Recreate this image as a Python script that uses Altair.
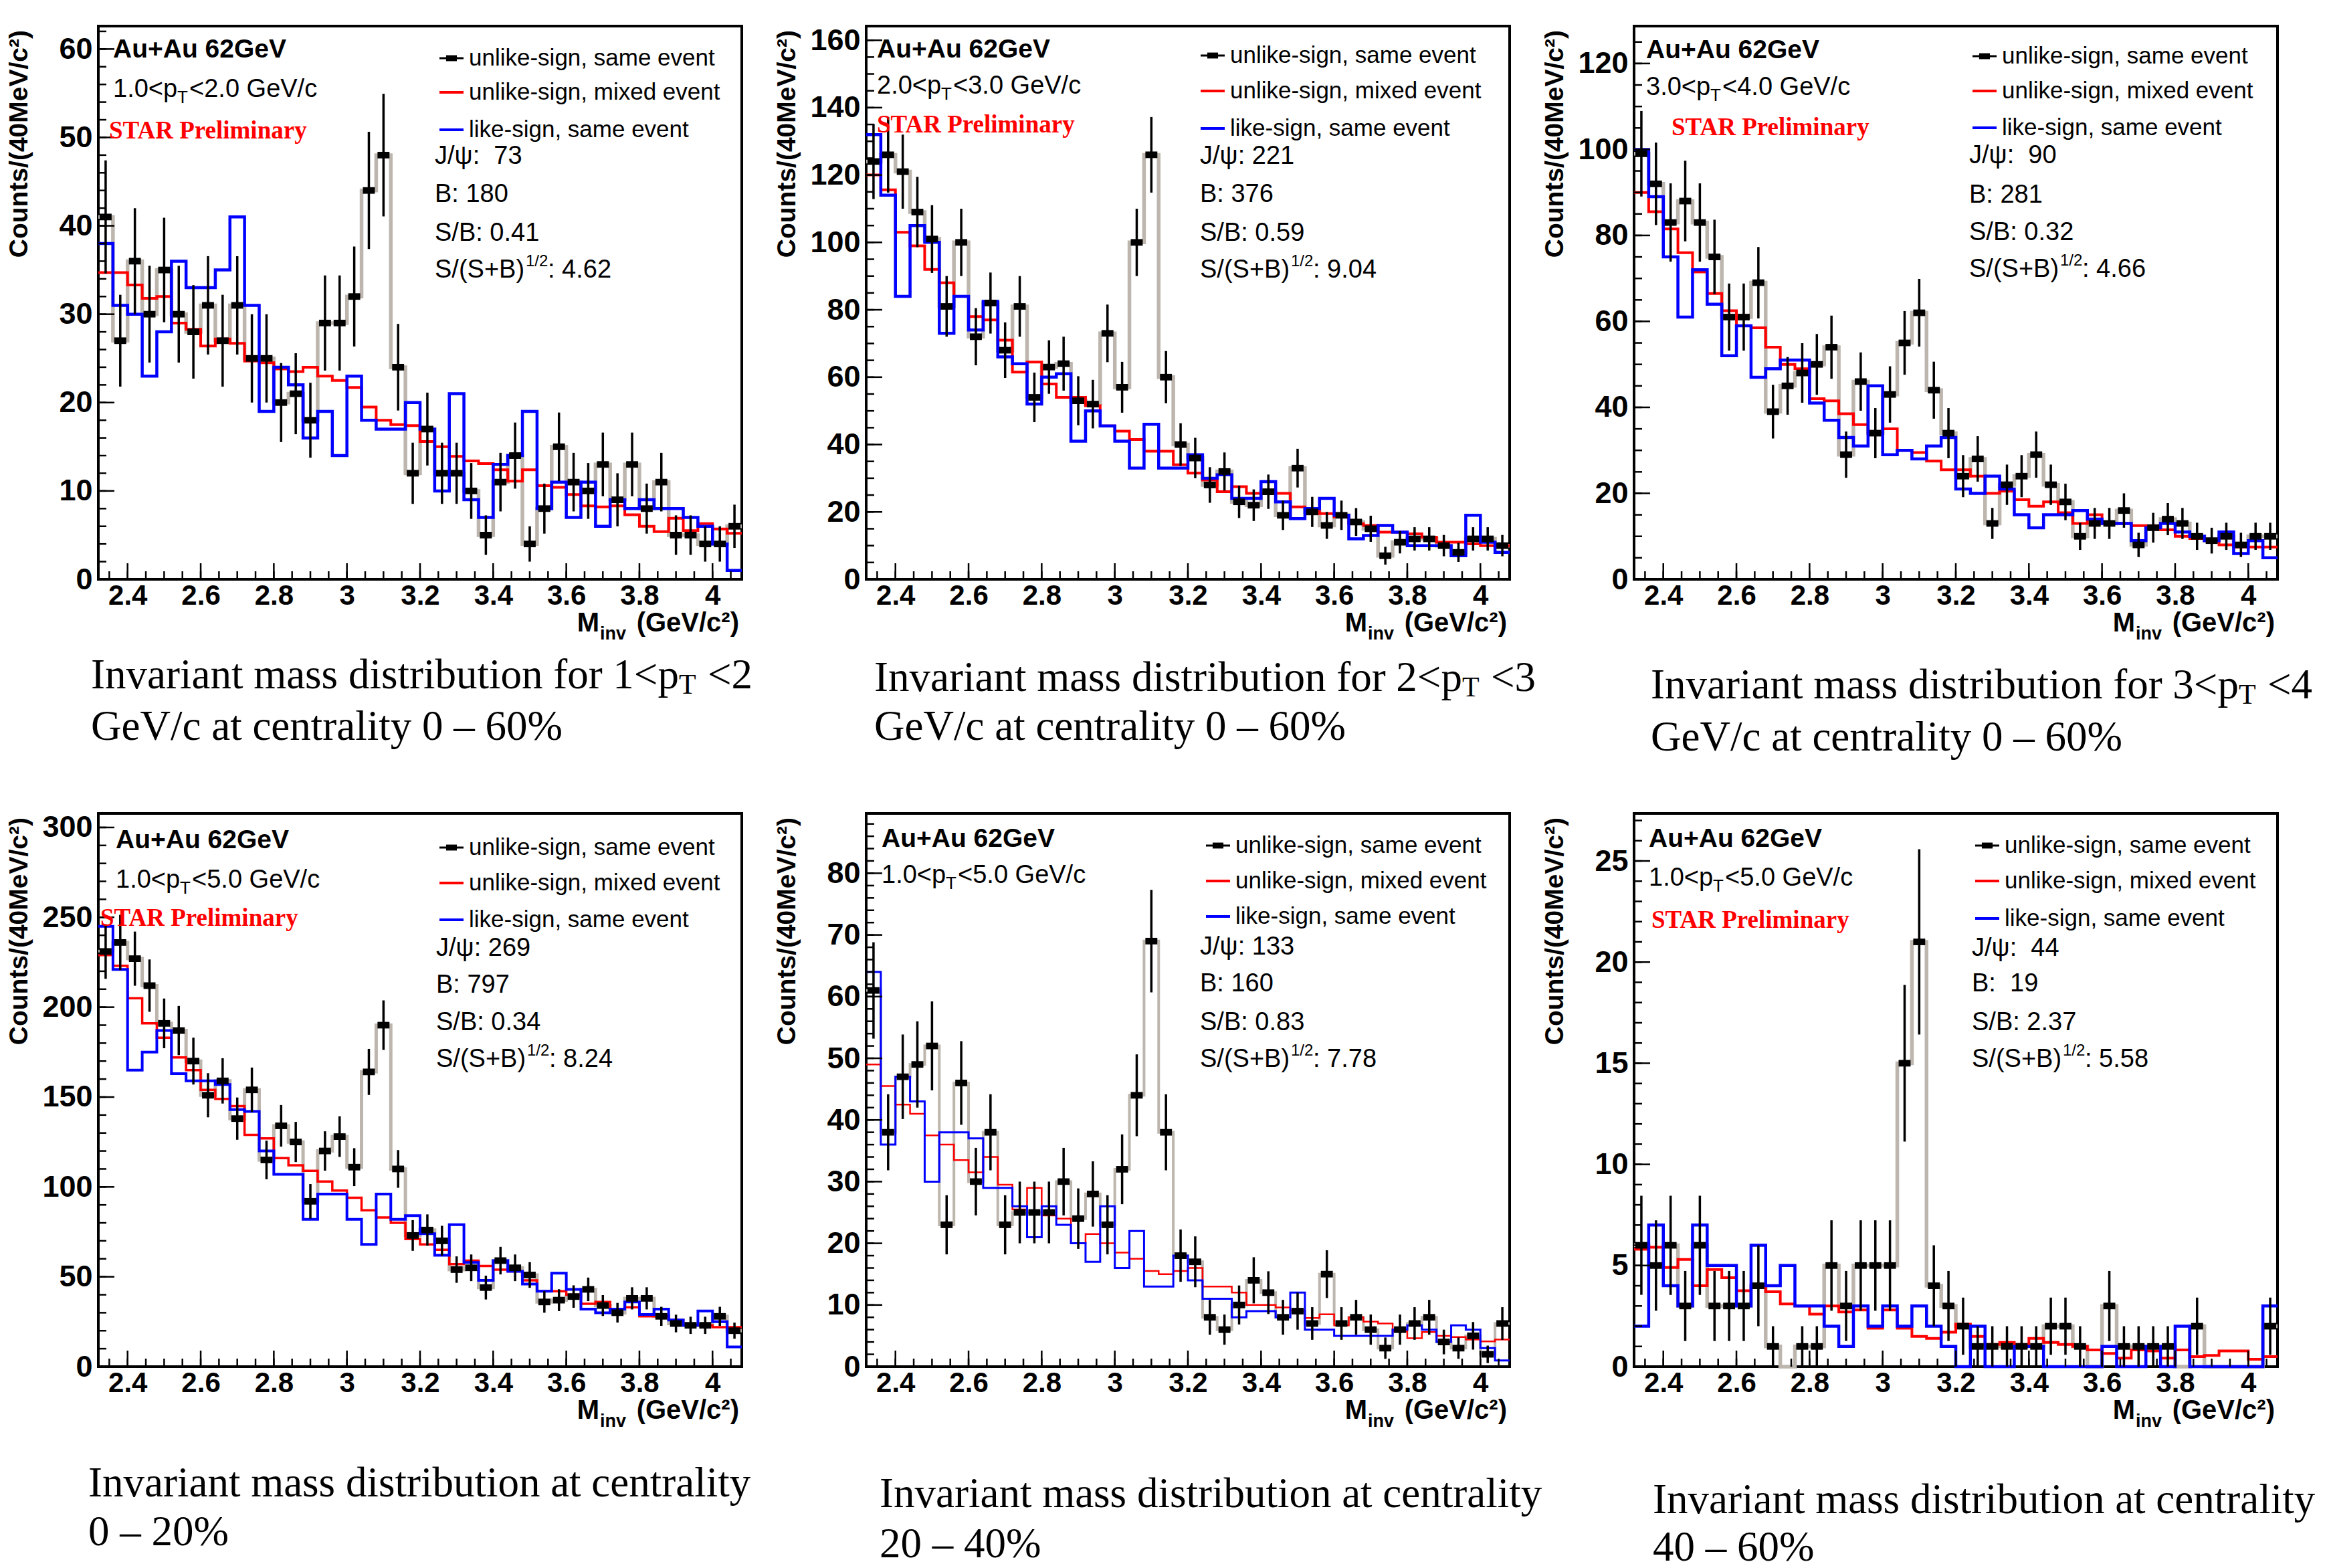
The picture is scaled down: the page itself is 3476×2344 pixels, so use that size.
import altair as alt
import pandas as pd

SANS = "Liberation Sans, Arial, Helvetica, sans-serif"
SERIF = "Liberation Serif, Times New Roman, serif"
GRAY = "#bdb6ae"
RED = "#ff0000"
BLUE = "#0000ff"

# ---------------- binning (40 MeV bins from 2.32 to 4.08 GeV/c^2) ----------------
BIN_LO, BIN_W, NB = 2.32, 0.04, 44
EDGES = [round(BIN_LO + BIN_W * i, 2) for i in range(NB + 1)]
CENTERS = [round(BIN_LO + BIN_W * (i + 0.5), 2) for i in range(NB)]
X_MAJOR = [2.4, 2.6, 2.8, 3.0, 3.2, 3.4, 3.6, 3.8, 4.0]
X_MINOR = [round(2.35 + 0.05 * i, 2) for i in range(35)]

# ---------------- panel 1 : 1<pT<2, 0-60% ----------------
p1_same = [41, 27, 36, 30, 35, 30, 28, 31, 27, 31, 25, 25, 20, 21, 18, 29, 29, 32, 44, 48, 24, 12,
           17, 12, 12, 10, 5, 11, 14, 4, 8, 15, 11, 10, 13, 9, 13, 8, 11, 5, 5, 4, 4, 6]
p1_mixed = [34.7, 34.7, 33.3, 31.8, 32.0, 29.0, 28.3, 26.4, 27.2, 26.7, 24.7, 24.5, 23.8, 23.5, 24.0,
            23.0, 22.5, 21.7, 19.5, 18.0, 17.5, 17.4, 15.6, 15.0, 13.9, 13.4, 13.1, 12.4, 11.1, 12.4,
            10.6, 10.4, 9.6, 8.3, 8.2, 8.3, 7.3, 6.0, 5.4, 6.9, 5.5, 6.3, 5.7, 5.2]
p1_like = [38, 31, 30, 23, 28, 36, 33, 33, 35, 41, 31, 19, 24, 22, 16, 19, 14, 23, 18, 17, 17, 20,
           17, 10, 21, 9, 7, 13, 14, 19, 8, 11, 7, 11, 6, 9, 8, 9, 8, 8, 7, 6, 4, 1]

# ---------------- panel 2 : 2<pT<3, 0-60% ----------------
p2_same = [124, 126, 121, 109, 101, 81, 100, 72, 82, 68, 81, 54, 63, 64, 53, 52, 73, 57, 100, 126, 60,
           40, 36, 28, 32, 23, 22, 26, 19, 33, 20, 16, 19, 17, 15, 7, 11, 12, 12, 10, 8, 12, 12, 10]
p2_mixed = [120, 115.6, 103, 99, 92, 88, 84, 78, 77, 71, 61.5, 64.5, 58, 54, 54, 51.5, 45.5, 44, 41.5,
            38, 38, 34, 31.5, 29.5, 26, 27.5, 25.5, 25.5, 25.5, 21.5, 21, 19.5, 18.5, 16.5, 16, 14, 14,
            13.5, 12.5, 11, 11, 10.5, 10, 10]
p2_like = [132, 114, 84, 105, 100, 73, 84, 74, 82.5, 66, 64, 52, 60, 61, 41, 50, 45.5, 41, 33, 46, 33,
           33, 37, 30, 31, 24, 24, 29, 23, 18, 21, 24, 19, 12, 13, 16, 14, 10, 10, 10, 7, 19, 11, 8]

# ---------------- panel 3 : 3<pT<4, 0-60% ----------------
p3_same = [99, 92, 83, 88, 83, 75, 61, 61, 69, 39, 45, 48, 50, 54, 29, 46, 34, 43, 55, 62, 44, 34,
           24, 28, 13, 22, 24, 29, 22, 18, 10, 13, 13, 16, 8, 12, 14, 13, 10, 9, 10, 8, 10, 10]
p3_mixed = [90, 85.5, 81.5, 76, 71.5, 66.5, 62.5, 59, 58.5, 54, 50, 49, 42, 41.5, 38.5, 36, 34, 35,
            30, 29.5, 27.5, 25.5, 25.5, 24, 20, 20.5, 18.5, 17, 18, 15.5, 13, 15, 13, 13, 12.5, 12.5,
            11.5, 10, 9.5, 9, 8, 7.5, 7.5, 7.5]
p3_like = [100, 89, 75, 61, 72, 64, 52, 59, 47, 49, 51, 51, 41, 37, 33, 31, 45, 29, 30, 28, 31, 33,
           21, 20, 24, 21, 15, 12, 15, 15, 16, 14, 13, 13, 9, 12, 13, 11, 10, 9, 11, 6, 9, 5]

# ---------------- panel 4 : centrality 0-20% ----------------
p4_same = [231, 236, 227, 212, 191, 187, 170, 151, 159, 138, 154, 115, 134, 125, 92, 120, 128, 111,
           164, 190, 110, 73, 76, 70, 54, 55, 44, 59, 55, 51, 36, 37, 39, 43, 34, 30, 38, 38, 28, 24,
           23, 23, 28, 20]
p4_mixed = [229, 223, 205, 191, 183, 172, 165, 154, 149, 145, 129, 127, 116, 112, 109, 103, 98, 94,
            87, 83, 80, 71, 68, 65, 57, 59, 56, 54, 53, 48, 42, 42, 40, 35, 36, 32, 33, 28, 28, 26,
            23, 23, 22, 22]
p4_like = [245, 221, 165, 175, 187, 163, 159, 159, 157, 143, 142, 120, 107, 107, 82, 96, 96, 82, 68,
           96, 82, 84, 74, 62, 79, 58, 48, 59, 53, 46, 42, 52, 43, 32, 30, 32, 36, 29, 32, 26, 23,
           31, 25, 11]

# ---------------- panel 5 : centrality 20-40% ----------------
p5_same = [61, 38, 47, 49, 52, 23, 46, 30, 38, 23, 25, 25, 25, 30, 24, 28, 23, 32, 44, 69, 38, 18,
           17, 8, 6, 10, 14, 12, 8, 9, 7, 15, 7, 8, 6, 3, 6, 7, 8, 4, 3, 5, 2, 7]
p5_mixed = [49, 45.5, 42.5, 41, 37.5, 36, 33.5, 31.5, 34, 29.5, 25.5, 29, 24.5, 24, 20, 21.5, 20,
            18.5, 17.5, 15.5, 15, 15.5, 16, 13, 13, 12, 10, 10, 9.6, 9.1, 7.9, 8.5, 6.7, 8.0, 7.3,
            7.0, 5.7, 4.6, 5.6, 5.0, 4.8, 4.4, 4.1, 4.4]
p5_like = [64, 36, 47, 43, 30, 38, 38, 37, 29, 29, 26, 21, 26, 23, 20, 17, 26, 16, 22, 13, 13, 18,
           14, 11, 11, 8, 9, 9, 8, 12, 6, 6, 5, 5, 5, 5, 6, 6.7, 6, 4, 6.7, 6, 3, 1]

# ---------------- panel 6 : centrality 40-60% ----------------
p6_same = [6, 5, 6, 3, 6, 3, 3, 3, 4, 1, 0, 1, 1, 5, 3, 5, 5, 5, 15, 21, 4, 3, 2, 1, 1, 1, 1, 1, 2,
           2, 1, 0, 3, 1, 1, 1, 1, 0, 2, 0, 0, 0, 0, 2]
p6_mixed = [5.8, 5.9, 4.9, 5.3, 4.0, 4.8, 4.4, 3.75, 4.0, 3.7, 3.1, 3.0, 2.6, 3.0, 2.7, 2.8, 1.9,
            2.8, 1.9, 1.5, 1.4, 1.7, 2.1, 1.5, 1.1, 1.2, 1.1, 1.4, 1.2, 1.1, 1.0, 0.83, 0.65, 0.42,
            0.83, 0.78, 0.42, 0.83, 0.5, 0.55, 0.78, 0.78, 0.36, 0.5]
p6_like = [2, 7, 4, 3, 7, 5, 5, 3, 6, 4, 5, 3, 3, 2, 1, 3, 2, 3, 2, 3, 2, 1, 0, 2, 0, 0, 1, 1, 0, 0,
           0, 0, 1, 0, 0, 1, 0, 2, 0, 0, 0, 0, 0, 3]

LEGEND = ["unlike-sign, same event", "unlike-sign, mixed event", "like-sign, same event"]

PANELS = [
    dict(same=p1_same, mixed=p1_mixed, like=p1_like, ymax=62.6, ymaj=10, ymin=2, sw=4,
         pt=("1.0", "2.0"), stats=("J/\u03c8:\u00a0 73", "B: 180", "S/B: 0.41", ": 4.62"),
         au=(22, 35), ptxy=(22, 95), star=(16, 157), leg=(554, [48, 99, 155]),
         st=(503, [195, 252, 310, 365]),
         cap=("Invariant mass distribution for 1<p", "<2", "GeV/c at centrality 0 \u2013 60%"),
         capxy=(-11, 144, 221)),
    dict(same=p2_same, mixed=p2_mixed, like=p2_like, ymax=164.2, ymaj=20, ymin=5, sw=4,
         pt=("2.0", "3.0"), stats=("J/\u03c8: 221", "B: 376", "S/B: 0.59", ": 9.04"),
         au=(16, 35), ptxy=(16, 90), star=(16, 148), leg=(544, [44, 97, 153]),
         st=(499, [195, 252, 310, 365]),
         cap=("Invariant mass distribution for 2<p", "<3", "GeV/c at centrality 0 \u2013 60%"),
         capxy=(12, 148, 221)),
    dict(same=p3_same, mixed=p3_mixed, like=p3_like, ymax=128.7, ymaj=20, ymin=5, sw=4,
         pt=("3.0", "4.0"), stats=("J/\u03c8:\u00a0 90", "B: 281", "S/B: 0.32", ": 4.66"),
         au=(18, 36), ptxy=(18, 92), star=(56, 152), leg=(550, [45, 97, 152]),
         st=(501, [194, 253, 309, 364]),
         cap=("Invariant mass distribution for 3<p", "<4", "GeV/c at centrality 0 \u2013 60%"),
         capxy=(25, 159, 237)),
    dict(same=p4_same, mixed=p4_mixed, like=p4_like, ymax=307.8, ymaj=50, ymin=10, sw=3.5,
         pt=("1.0", "5.0"), stats=("J/\u03c8: 269", "B: 797", "S/B: 0.34", ": 8.24"),
         au=(26, 40), ptxy=(26, 100), star=(3, 157), leg=(554, [51, 104, 159]),
         st=(505, [202, 257, 313, 368]),
         cap=("Invariant mass distribution at centrality", None, "0 \u2013 20%"),
         capxy=(-15, 175, 248)),
    dict(same=p5_same, mixed=p5_mixed, like=p5_like, ymax=89.7, ymaj=10, ymin=2, sw=2.5,
         pt=("1.0", "5.0"), stats=("J/\u03c8: 133", "B: 160", "S/B: 0.83", ": 7.78"),
         au=(23, 38), ptxy=(23, 93), star=None, leg=(552, [48, 101, 154]),
         st=(499, [200, 255, 313, 368]),
         cap=("Invariant mass distribution at centrality", None, "20 \u2013 40%"),
         capxy=(20, 191, 266)),
    dict(same=p6_same, mixed=p6_mixed, like=p6_like, ymax=27.35, ymaj=5, ymin=1, sw=4,
         pt=("1.0", "5.0"), stats=("J/\u03c8:\u00a0 44", "B:\u00a0 19", "S/B: 2.37", ": 5.58"),
         au=(22, 38), ptxy=(22, 97), star=(26, 160), leg=(554, [48, 101, 157]),
         st=(505, [202, 255, 313, 368]),
         cap=("Invariant mass distribution at centrality", None, "40 \u2013 60%"),
         capxy=(28, 200, 271)),
]

W, H = 962, 827
ONE = pd.DataFrame({"k": [0]})
RECT = "M-1,-0.55L1,-0.55L1,0.55L-1,0.55Z"


def T(s, x, y, size, font=SANS, weight="normal", color="black", align="left", angle=0):
    return alt.Chart(ONE).mark_text(
        text=s, font=font, fontSize=size, fontWeight=weight, color=color,
        align=align, baseline="middle", angle=angle
    ).encode(x=alt.value(x), y=alt.value(y))


def make_panel(p):
    hist = pd.DataFrame({
        "m": EDGES,
        "same": p["same"] + [p["same"][-1]],
        "mixed": p["mixed"] + [p["mixed"][-1]],
        "like": p["like"] + [p["like"][-1]],
    })
    pts = pd.DataFrame({"m": CENTERS, "n": p["same"]})
    pts = pts[pts["n"] > 0]

    ymaj = [p["ymaj"] * i for i in range(int(p["ymax"] // p["ymaj"]) + 1)]
    ymin = [p["ymin"] * i for i in range(int(p["ymax"] // p["ymin"]) + 1)]

    xs = alt.Scale(domain=[2.32, 4.08], nice=False, zero=False)
    ys = alt.Scale(domain=[0, p["ymax"]], nice=False, zero=False)
    xax = alt.Axis(values=X_MAJOR, format="~g", ticks=False, domain=False, grid=False,
                   labelFont=SANS, labelFontSize=42, labelFontWeight="bold", labelColor="black",
                   labelPadding=4, labelFlush=False, labelOverlap=False, title=None)
    yax = alt.Axis(values=ymaj, ticks=False, domain=False, grid=False,
                   labelFont=SANS, labelFontSize=45, labelFontWeight="bold", labelColor="black",
                   labelPadding=9, labelFlush=False, labelOverlap=False, title=None)

    def X(f):
        return alt.X(f, type="quantitative", scale=xs, axis=xax)

    def Y(f):
        return alt.Y(f, type="quantitative", scale=ys, axis=yax)

    sw = p["sw"]
    layers = []
    base = alt.Chart(hist)
    layers.append(base.mark_line(interpolate="step-after", color=GRAY, strokeWidth=sw + 1.5)
                  .encode(x=X("m"), y=Y("same")))
    layers.append(base.mark_line(interpolate="step-after", color=RED, strokeWidth=sw)
                  .encode(x=X("m"), y=Y("mixed")))
    layers.append(base.mark_line(interpolate="step-after", color=BLUE, strokeWidth=sw + 0.5)
                  .encode(x=X("m"), y=Y("like")))
    layers.append(alt.Chart(pts)
                  .transform_calculate(lo="datum.n - sqrt(datum.n)", hi="datum.n + sqrt(datum.n)")
                  .mark_rule(color="black", strokeWidth=3.5)
                  .encode(x=X("m"), y=Y("lo:Q"), y2=alt.Y2("hi:Q")))
    layers.append(alt.Chart(pts).mark_point(shape=RECT, size=320, filled=True, color="black", opacity=1)
                  .encode(x=X("m"), y=Y("n")))

    # inward ticks (ROOT style)
    layers.append(alt.Chart(pd.DataFrame({"t": X_MAJOR})).mark_rule(color="black", strokeWidth=2.5)
                  .encode(x=X("t"), y=alt.value(H), y2=alt.value(H - 24)))
    layers.append(alt.Chart(pd.DataFrame({"t": X_MINOR})).mark_rule(color="black", strokeWidth=2.5)
                  .encode(x=X("t"), y=alt.value(H), y2=alt.value(H - 12)))
    layers.append(alt.Chart(pd.DataFrame({"t": ymaj})).mark_rule(color="black", strokeWidth=2.5)
                  .encode(y=Y("t"), x=alt.value(0), x2=alt.value(24)))
    layers.append(alt.Chart(pd.DataFrame({"t": ymin})).mark_rule(color="black", strokeWidth=2.5)
                  .encode(y=Y("t"), x=alt.value(0), x2=alt.value(12)))

    # axis titles
    layers.append(T("Counts/(40MeV/c\u00b2)", -118, 6, 39, weight="bold", align="right", angle=270))
    layers.append(T("M", W - 213, H + 66, 40, weight="bold", align="right"))
    layers.append(T("inv", W - 212, H + 82, 27, weight="bold"))
    layers.append(T("(GeV/c\u00b2)", W - 4, H + 66, 40, weight="bold", align="right"))

    # header texts
    ax_, ay_ = p["au"]
    layers.append(T("Au+Au 62GeV", ax_, ay_, 39, weight="bold"))
    px_, py_ = p["ptxy"]
    layers.append(T(p["pt"][0] + "<p", px_, py_, 38))
    layers.append(T("T", px_ + 96, py_ + 12, 26))
    layers.append(T("<" + p["pt"][1] + " GeV/c", px_ + 114, py_, 38))
    if p["star"] is not None:
        layers.append(T("STAR Preliminary", p["star"][0], p["star"][1], 37, font=SERIF,
                        weight="bold", color=RED))

    # legend
    tx, lys = p["leg"]
    for lbl, ly, col in zip(LEGEND, lys, ["black", RED, BLUE]):
        layers.append(alt.Chart(ONE).mark_rule(color=col, strokeWidth=3 if col == "black" else 4)
                      .encode(x=alt.value(tx - 44), x2=alt.value(tx - 8), y=alt.value(ly)))
        if col == "black":
            layers.append(alt.Chart(ONE).mark_point(shape=RECT, size=260, filled=True,
                                                    color="black", opacity=1)
                          .encode(x=alt.value(tx - 26), y=alt.value(ly)))
        layers.append(T(lbl, tx, ly, 35))

    # statistics
    sx, sys_ = p["st"]
    for s, yy in zip(p["stats"][:3], sys_[:3]):
        layers.append(T(s, sx, yy, 38))
    layers.append(T("S/(S+B)", sx, sys_[3], 38))
    layers.append(T("1/2", sx + 136, sys_[3] - 13, 24))
    layers.append(T(p["stats"][3], sx + 169, sys_[3], 38))

    # caption under the panel
    cx, cy1, cy2 = p["capxy"]
    c1, c1b, c2 = p["cap"]
    layers.append(T(c1, cx, H + cy1, 63, font=SERIF))
    if c1b is not None:
        layers.append(T("T", cx + 879, H + cy1 + 14, 42, font=SERIF))
        layers.append(T(c1b, cx + 922, H + cy1, 63, font=SERIF))
    layers.append(T(c2, cx, H + cy2, 63, font=SERIF))

    return alt.layer(*layers).properties(width=W, height=H)


panels = [make_panel(p) for p in PANELS]

chart = alt.concat(
    *panels, columns=3, spacing={"row": 350, "column": 186}, bounds="flush"
).properties(
    padding={"left": 8, "top": 36, "right": 4, "bottom": 4},
    background="white",
).configure_view(
    stroke="black", strokeWidth=4, fill="white"
)

chart.save("out.html", embed_options={"renderer": "svg", "actions": False})
